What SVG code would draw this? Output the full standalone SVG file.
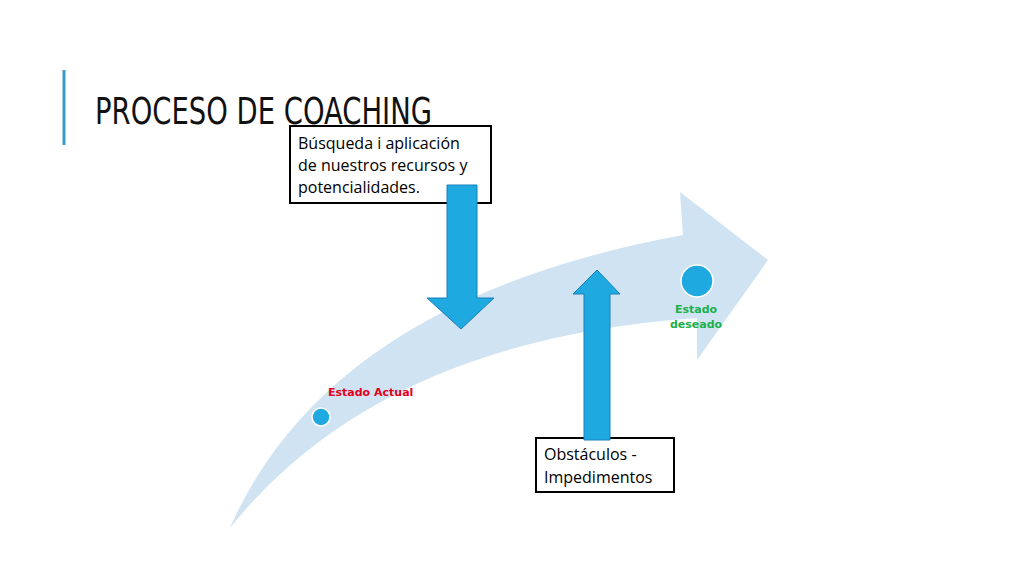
<svg xmlns="http://www.w3.org/2000/svg" width="1024" height="576" viewBox="0 0 1024 576">
<style>
.box{fill:#fff;stroke:#000;stroke-width:2}
.bt{font-family:"Open Sans","DejaVu Sans",sans-serif;font-size:16px;fill:#000}
.arr{fill:#1ea9e1;stroke:#1a7fb8;stroke-width:1}
.lab{font-family:"DejaVu Sans",sans-serif;font-size:11px;font-weight:bold}
</style>
<rect width="1024" height="576" fill="#fff"/>
<line x1="64" y1="70" x2="64" y2="145" stroke="#3a9bc6" stroke-width="3"/>
<text x="95" y="124" font-family="DejaVu Sans Condensed,sans-serif" font-size="38" fill="#111" textLength="337" lengthAdjust="spacingAndGlyphs">PROCESO DE COACHING</text>
<g id="main-arrow"><path d="M230,528 Q330,300 683,235 L680,192 L768,260 L697,360 L697,318 Q380,340 230,528 Z" fill="#cfe3f3"/></g>
<g id="estado-actual"><circle cx="321" cy="417" r="9" fill="#1ea9e1" stroke="#fff" stroke-width="1.5"/><text class="lab" x="328" y="396" fill="#e3001b">Estado Actual</text></g>
<g id="estado-deseado"><circle cx="697" cy="281" r="16" fill="#1ea9e1" stroke="#fff" stroke-width="1.5"/><text class="lab" x="696" y="313" text-anchor="middle" fill="#1bb04a">Estado</text><text class="lab" x="696" y="328" text-anchor="middle" fill="#1bb04a">deseado</text></g>
<g id="recursos"><rect class="box" x="290" y="126" width="201" height="77"/>
<text class="bt" x="298" y="149">Búsqueda i aplicación</text><text class="bt" x="298" y="171">de nuestros recursos y</text><text class="bt" x="298" y="193">potencialidades.</text></g>
<g id="obstaculos"><rect class="box" x="536" y="438" width="138" height="54"/>
<text class="bt" x="544" y="460">Obstáculos -</text><text class="bt" x="544" y="483">Impedimentos</text></g>
<g id="connectors">
<path class="arr" d="M447,185 H477 V298 H494 L461,329 L427,298 H447 Z"/>
<path class="arr" d="M584,440 V294 H573 L597,270 L620,294 H610 V440 Z"/>
</g>
</svg>
